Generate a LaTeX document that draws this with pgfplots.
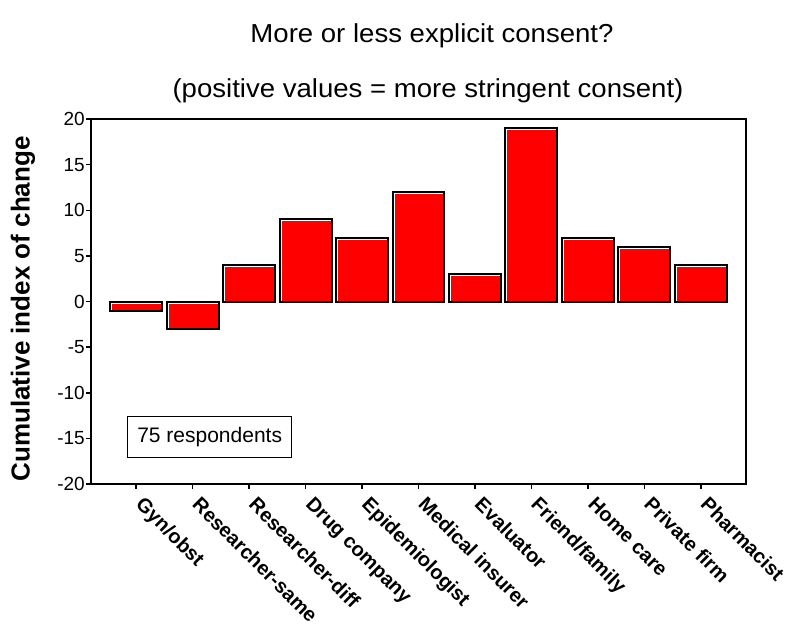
\documentclass[border=0pt]{standalone}
\usepackage{fontspec}
\setmainfont{Liberation Sans}
\newfontfamily\titlefont{Liberation Sans}[FakeStretch=1.06]
\usepackage{pgfplots}
\pgfplotsset{compat=1.18}

\pgfplotstableread{
idx value
0  -1
1  -3
2   4
3   9
4   7
5  12
6   3
7  19
8   7
9   6
10  4
}\consent

\begin{document}
\begin{tikzpicture}
\path[use as bounding box] (0pt,0pt) rectangle (791pt,627pt);

% titles
\node[font=\titlefont\fontsize{26}{30}\selectfont, anchor=base] at (432pt,584pt) {More or less explicit consent?};
\node[font=\titlefont\fontsize{26}{30}\selectfont, anchor=base] at (428pt,529pt) {(positive values = more stringent consent)};

% y axis title
\node[rotate=90, font=\bfseries\fontsize{26}{30}\selectfont] at (23pt,318pt) {Cumulative index of change};

\begin{axis}[
  at={(91pt,143pt)}, anchor=south west,
  width=655pt, height=365pt, scale only axis,
  xmin=-0.8, xmax=10.8,
  ymin=-20, ymax=20,
  ytick={-20,-15,...,20},
  xtick={0,...,10},
  xticklabels={Gyn/obst,Researcher-same,Researcher-diff,Drug company,Epidemiologist,Medical insurer,Evaluator,Friend/family,Home care,Private firm,Pharmacist},
  tick pos=left,
  tick align=outside,
  major tick length=5pt,
  tick style={black, line width=1.5pt},
  axis line style={line width=1.6pt},
  /pgf/number format/assume math mode=true,
  yticklabel style={font=\fontsize{19}{22}\selectfont, inner sep=1pt},
  xticklabel style={font=\bfseries\fontsize{20}{23}\selectfont, xshift=9pt, yshift=-5pt, rotate=-45, anchor=north west, inner sep=1pt},
  clip=false,
]
  % red bars with a light inner edge
  \addplot[ybar, bar width=0.92, bar shift=0pt, fill=red, draw=white, line width=1.6pt, xshift=1.2pt, yshift=-1.2pt]
    table[x=idx, y=value] {\consent};
  \addplot[ybar, bar width=0.92, bar shift=0pt, fill=none, draw=black, line width=2pt]
    table[x=idx, y=value] {\consent};

  \node[draw, line width=1.3pt, anchor=south west, minimum width=164pt, minimum height=41pt, inner sep=0pt,
        font=\fontsize{21}{24}\selectfont]
    at (rel axis cs:0.055,0.071) {75 respondents};
\end{axis}
\end{tikzpicture}
\end{document}
